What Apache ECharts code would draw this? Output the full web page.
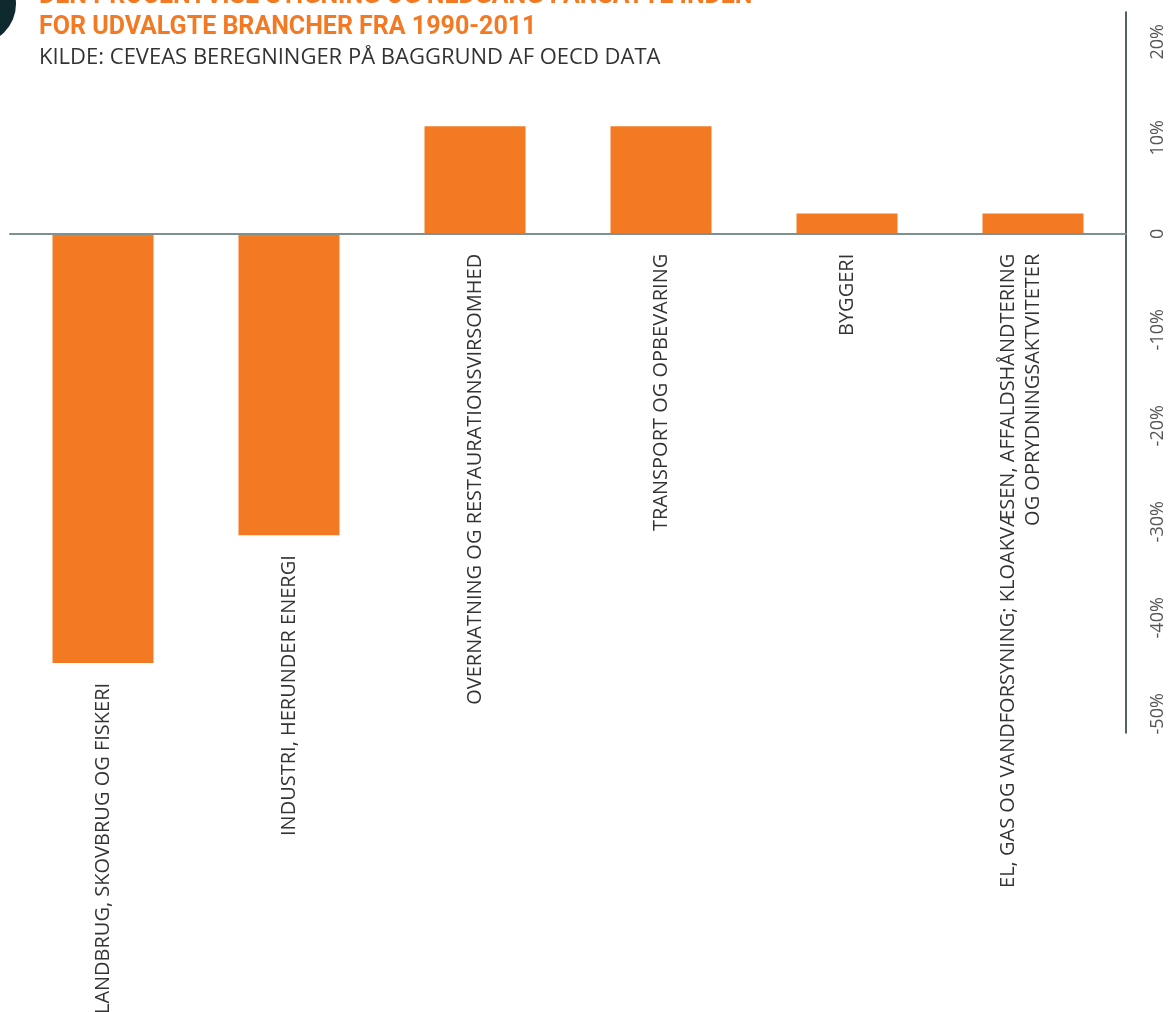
<!DOCTYPE html>
<html>
<head>
<meta charset="utf-8">
<script src="https://cdn.jsdelivr.net/npm/echarts@6/dist/echarts.min.js"></script>
<style>
  html, body { margin: 0; padding: 0; background: #fff; }
  #chart { width: 1172px; height: 1012px; }
</style>
</head>
<body>
<div id="chart"></div>
<script>
var brancher = [
    'LANDBRUG, SKOVBRUG OG FISKERI',
    'INDUSTRI, HERUNDER ENERGI',
    'OVERNATNING OG RESTAURATIONSVIRSOMHED',
    'TRANSPORT OG OPBEVARING',
    'BYGGERI',
    'EL, GAS OG VANDFORSYNING; KLOAKVÆSEN, AFFALDSHÅNDTERING\nOG OPRYDNINGSAKTVITETER'
];
var aendring = [-44.7, -31.4, 11.2, 11.2, 2.1, 2.1];
var procentTicks = [-50, -40, -30, -20, -10, 0, 10, 20];

var chartDom = document.getElementById('chart');
var chart = echarts.init(chartDom);

// to-linjers etiket: skub blokken så anden linje står midt på søjlen
var data = aendring.map(function (v, i) {
    var item = { value: v };
    if (brancher[i].indexOf('\n') >= 0) {
        item.label = { offset: [0, -12] };
    }
    return item;
});

var option = {
    animation: false,
    title: {
        left: 34,
        top: -24,
        text: 'DEN PROCENTVISE STIGNING OG NEDGANG I ANSATTE INDEN\nFOR UDVALGTE BRANCHER FRA 1990-2011',
        subtext: 'KILDE: CEVEAS BEREGNINGER PÅ BAGGRUND AF OECD DATA',
        itemGap: 4,
        textStyle: {
            fontFamily: 'Roboto',
            fontWeight: 'bold',
            fontSize: 25,
            lineHeight: 31,
            color: '#f37a23'
        },
        subtextStyle: {
            fontFamily: 'Open Sans',
            fontSize: 22,
            color: '#333'
        }
    },
    graphic: [
        {
            type: 'circle',
            shape: { cx: -24, cy: 4, r: 40 },
            style: { fill: '#0f2a2e' }
        }
    ],
    grid: { left: 10, right: 46, top: 12, bottom: 279 },
    xAxis: {
        type: 'category',
        data: brancher,
        z: 3,
        axisLine: { onZero: true, lineStyle: { color: '#7d9191', width: 2 } },
        axisTick: { show: false },
        axisLabel: { show: false }
    },
    yAxis: {
        type: 'value',
        position: 'right',
        min: -52,
        max: 23.1,
        splitLine: { show: false },
        axisTick: { show: false },
        axisLine: { show: true, lineStyle: { color: '#1a2e33', width: 1.5 } },
        axisLabel: {
            customValues: procentTicks,
            rotate: 90,
            margin: 23,
            align: 'center',
            verticalAlign: 'top',
            fontFamily: 'Open Sans',
            fontSize: 18,
            color: '#555',
            formatter: function (v) { return v === 0 ? '0' : v + '%'; }
        }
    },
    series: [
        {
            type: 'bar',
            barWidth: 101,
            itemStyle: { color: '#f37a23' },
            label: {
                show: true,
                position: 'bottom',
                distance: 20,
                rotate: 90,
                align: 'right',
                verticalAlign: 'middle',
                fontFamily: 'Open Sans',
                fontSize: 20,
                lineHeight: 25,
                color: '#333',
                formatter: '{b}'
            },
            data: data
        }
    ]
};

chart.setOption(option);
</script>
</body>
</html>
